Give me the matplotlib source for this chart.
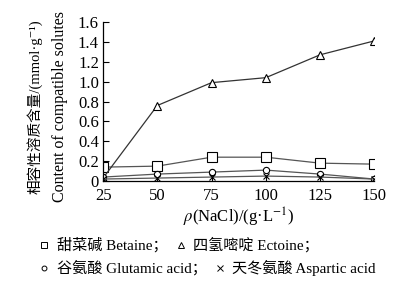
import numpy as np
import matplotlib
matplotlib.use('Agg')
import matplotlib.pyplot as plt
from matplotlib.lines import Line2D

plt.rcParams['font.family'] = ['Liberation Serif', 'Noto Sans CJK SC', 'DejaVu Serif']
plt.rcParams['mathtext.fontset'] = 'stix'

# 数据
nacl = [25, 50, 75, 100, 125, 150]
betaine = [0.14, 0.15, 0.24, 0.24, 0.18, 0.17]
ectoine = [0.03, 0.76, 0.99, 1.04, 1.27, 1.41]
glutamic = [0.04, 0.07, 0.09, 0.11, 0.07, 0.02]
aspartic = [0.02, 0.03, 0.04, 0.05, 0.04, 0.02]
yticks = [0, 0.2, 0.4, 0.6, 0.8, 1.0, 1.2, 1.4, 1.6]
ytick_labels = ['0', '0.2', '0.4', '0.6', '0.8', '1.0', '1.2', '1.4', '1.6']
names = ['甜菜碱 Betaine；', '四氢嘧啶 Ectoine；', '谷氨酸 Glutamic acid；', '天冬氨酸 Aspartic acid']

fig = plt.figure(figsize=(4.14, 2.86), dpi=100)
ax = fig.add_axes([0.249, 0.367, 0.655, 0.556])

lc = '#555555'
kw = dict(color=lc, lw=0.9, mec='black', mfc='white', mew=0.8)
h1, = ax.plot(nacl, betaine, marker='s', ms=6.5, **kw)
h2, = ax.plot(nacl, ectoine, marker='^', ms=6, color='#333333', lw=0.9, mec='black', mfc='white', mew=0.8)
h3, = ax.plot(nacl, glutamic, marker='o', ms=4.5, **kw)
h4, = ax.plot(nacl, aspartic, marker='x', ms=5, **kw)

ax.set_xlim(25, 150)
ax.set_ylim(0, 1.6)
ax.set_xticks(nacl)
ax.set_yticks(yticks)
ax.set_yticklabels(ytick_labels)
ax.spines['top'].set_visible(False)
ax.spines['right'].set_visible(False)
ax.tick_params(direction='in', length=4, width=0.8, labelsize=12)
ax.tick_params(axis='x', pad=5)
ax.tick_params(axis='y', pad=3)
for s in ax.spines.values():
    s.set_linewidth(0.9)
ax.set_xlabel(r'$\rho$(NaCl)/(g·L$^{-1}$)', fontsize=12, labelpad=1)

fig.text(0.083, 0.627, '相容性溶质含量/(mmol·g⁻¹)', rotation=90, ha='center', va='center', fontsize=10.5)
fig.text(0.145, 0.627, 'Content of compatible solutes', rotation=90, ha='center', va='center', fontsize=11.5)

def mk(h, ms):
    return Line2D([], [], ls='none', marker=h.get_marker(), ms=ms, mec='black', mfc='white', mew=0.7)

fig.legend([mk(h1, 4.5), mk(h2, 4.5)], names[:2], ncol=2, loc='center left',
           bbox_to_anchor=(0.078, 0.143), frameon=False, fontsize=10.9,
           handlelength=0.6, handletextpad=0.5, columnspacing=0.6, borderpad=0)
fig.legend([mk(h3, 3.5), mk(h4, 4.5)], names[2:], ncol=2, loc='center left',
           bbox_to_anchor=(0.078, 0.063), frameon=False, fontsize=10.9,
           handlelength=0.6, handletextpad=0.5, columnspacing=0.6, borderpad=0)

fig.savefig('out.png', dpi=100)
